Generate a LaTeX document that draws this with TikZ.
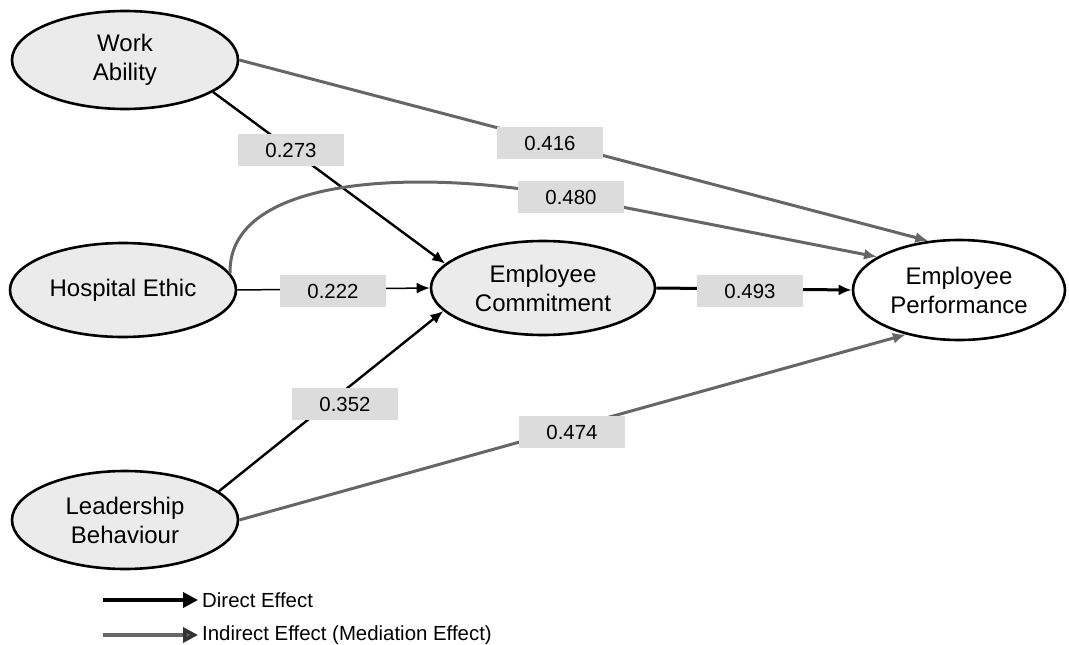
\documentclass[tikz,border=0pt]{standalone}
\usepackage{fontspec}
\setmainfont{Liberation Sans}
\usetikzlibrary{shapes.geometric,arrows.meta}
\definecolor{ovalgrey}{HTML}{EBEBEB}
\definecolor{boxgrey}{HTML}{DCDCDC}
\definecolor{indgrey}{HTML}{666666}

\begin{document}
\begin{tikzpicture}[x=1pt,y=-1pt,
    construct/.style={ellipse,draw=black,line width=2.6pt,fill=ovalgrey,
      minimum width=226pt,minimum height=98pt,inner sep=0pt,align=center,
      font=\fontsize{24}{29}\selectfont},
    coef/.style={fill=boxgrey,minimum width=106pt,minimum height=32pt,
      inner sep=0pt,font=\fontsize{20.4}{24}\selectfont},
    direct/.style={draw=black,line width=2.4pt,-{Latex[length=13pt,width=11pt]}},
    indirect/.style={draw=indgrey,line width=3pt,-{Latex[length=13pt,width=11pt]}},
    legtext/.style={anchor=west,inner sep=4pt,font=\fontsize{20.4}{24}\selectfont}]
\useasboundingbox (0,0) rectangle (1069,645);

% constructs
\node[construct] (wa) at (125,60) {Work\\Ability};
\node[construct,minimum height=94pt] (he) at (123,290) {Hospital Ethic};
\node[construct] (lb) at (125,520) {Leadership\\Behaviour};
\node[construct,minimum width=224pt,minimum height=94pt] (ec) at (543,288) {Employee\\Commitment};
\node[construct,fill=white,minimum width=212pt,minimum height=100pt] (ep) at (959,290) {Employee\\Performance};

% paths
\draw[direct] (wa.-20) -- (ec.166);
\draw[direct,line width=1.5pt] (he.east) -- (ec.west);
\draw[direct] (lb.17) -- (ec.193);
\draw[direct,line width=3pt] (ec.east) -- (ep.west);
\draw[indirect] (wa.east) -- (ep.122);
\draw[indirect] (he.9) .. controls (228,175) and (421,168) .. (571,197) -- (ep.158);
\draw[indirect] (lb.east) -- (ep.220);

% coefficients
\node[coef] (c273) at (291,150) {0.273};
\node[coef] (c416) at (550,143) {0.416};
\node[coef] (c480) at (571,197) {0.480};
\node[coef] (c222) at (333,291) {0.222};
\node[coef] (c493) at (750,291) {0.493};
\node[coef] (c352) at (345,404) {0.352};
\node[coef] (c474) at (572,432) {0.474};

% legend
\coordinate (dirstart) at (103,600);
\node[legtext] (dirtxt) at (198,600) {Direct Effect};
\draw[line width=3.5pt,-{Triangle[length=15pt,width=15pt]}] (dirstart) -- (dirtxt.west);
\coordinate (indstart) at (103,635);
\node[legtext] (indtxt) at (198,635) {Indirect Effect (Mediation Effect)};
\draw[indgrey,line width=3.5pt,-{Triangle[length=15pt,width=15pt,color=black!80,fill=indgrey]}] (indstart) -- (indtxt.west);
\end{tikzpicture}
\end{document}
